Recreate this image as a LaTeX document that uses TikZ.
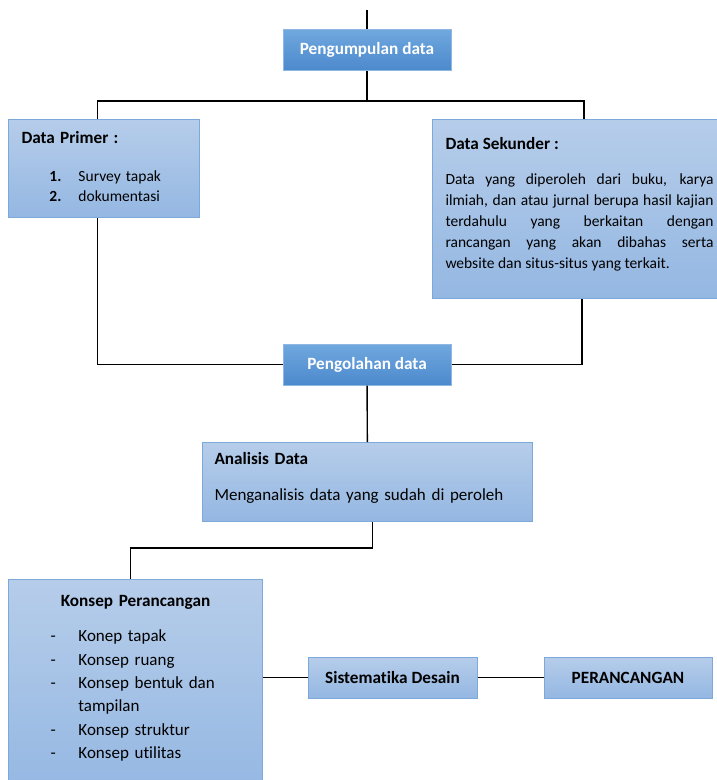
\documentclass[tikz,border=0pt]{standalone}
\usepackage{fontspec}
\setmainfont{Carlito}[Ligatures=NoCommon]
\usepackage{xcolor}
\usetikzlibrary{positioning}
\definecolor{mudaatas}{HTML}{B6CDEA}
\definecolor{mudabawah}{HTML}{94B7E2}
\definecolor{mudatepi}{HTML}{7DA8DB}
\definecolor{tuaatas}{HTML}{70A8DE}
\definecolor{tuabawah}{HTML}{4C89CD}
\definecolor{tuatepi}{HTML}{8DB8E4}
\newcommand{\isi}{\fontsize{15.5}{20.8}\selectfont}
\newcommand{\isibesar}{\fontsize{17}{23.3}\selectfont}
\newcommand{\kepala}{\fontsize{17.2}{21}\selectfont\bfseries}
\newcommand{\ganjal}[1]{\rule[-#1]{0pt}{#1}}
\tikzset{
  kotak/.style={draw=mudatepi, line width=1pt, top color=mudaatas, bottom color=mudabawah, font=\isi},
  judul/.style={draw=tuatepi, line width=1pt, top color=tuaatas, bottom color=tuabawah, text=white, font=\kepala, minimum width=168, minimum height=41},
  garis/.style={black, line width=1.4pt},
}

\begin{document}
\begin{tikzpicture}[x=1pt, y=-1pt]
\clip (0,0) rectangle (717,780);
\fill[white] (0,0) rectangle (717,780);
\coordinate (masuk) at (367,10);
\node[judul] (kumpul) at (367,50) {Pengumpulan data};
\node[kotak, anchor=north west, minimum height=98, text width=165, inner xsep=13, align=left] (primer) at (8,119)
  {{\kepala Data Primer :}\\[17pt]
   \hspace*{28pt}\makebox[29pt][l]{\textbf{1.}}Survey tapak\\
   \hspace*{28pt}\makebox[29pt][l]{\textbf{2.}}dokumentasi\ganjal{4pt}};
\node[kotak, anchor=north west, minimum height=179, text width=268, inner xsep=13, align=justify] (sekunder) at (432,119)
  {{\kepala Data Sekunder :}\\[15pt]
   Data yang diperoleh dari buku, karya\linebreak
   ilmiah, dan atau jurnal berupa hasil kajian\linebreak
   terdahulu yang berkaitan dengan\linebreak
   rancangan yang akan dibahas serta\linebreak
   website dan situs-situs yang terkait.\ganjal{13pt}};
\node[judul] (olah) at (367,364.5) {Pengolahan data};
\node[kotak, font=\isibesar, anchor=north west, minimum width=330, minimum height=79, text width=306, inner xsep=12, align=left] (analisis) at (202,442)
  {{\kepala Analisis Data}\\[13pt]
   Menganalisis data yang sudah di peroleh\ganjal{11pt}};
\node[kotak, font=\isibesar, anchor=north west, minimum height=215, text width=230, inner xsep=12, align=left] (konsep) at (8,579)
  {\makebox[230pt][c]{\kepala Konsep Perancangan}\\[12pt]
   \hspace*{30pt}\makebox[28pt][l]{-}Konep tapak\\
   \hspace*{30pt}\makebox[28pt][l]{-}Konsep ruang\\
   \hspace*{30pt}\makebox[28pt][l]{-}Konsep bentuk dan\\
   \hspace*{58pt}tampilan\\
   \hspace*{30pt}\makebox[28pt][l]{-}Konsep struktur\\
   \hspace*{30pt}\makebox[28pt][l]{-}Konsep utilitas\ganjal{20pt}};
\node[kotak, font=\kepala, minimum width=169, minimum height=41] (sistem) at (392.5,677.5) {Sistematika Desain};
\node[kotak, font=\kepala, minimum width=168, minimum height=41] (rancang) at (628,677.5) {PERANCANGAN};

\draw[garis] (masuk) -- (kumpul);
\draw[garis] (kumpul.south) -- ++(0,30);
\draw[garis] ([xshift=-6.5]primer.north) -- ++(0,-18) -| ([xshift=4.5]sekunder.north);
\draw[garis] ([xshift=-6.5]primer.south) |- (olah.west);
\draw[garis] ([xshift=2.5]sekunder.south) |- (olah.east);
\draw[garis] (olah) -- (analisis);
\draw[garis] ([xshift=5]analisis.south) -- ++(0,26) -| ([xshift=-5]konsep.north);
\draw[garis] (konsep.east |- sistem) -- (sistem);
\draw[garis] (sistem) -- (rancang);
\end{tikzpicture}
\end{document}
